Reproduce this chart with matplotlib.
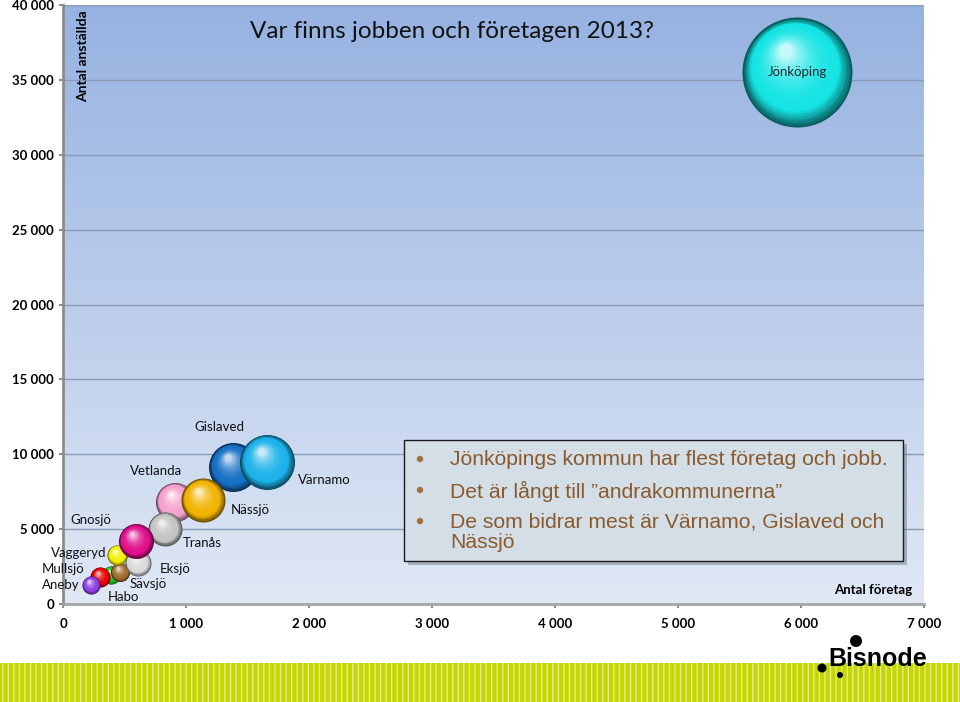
import numpy as np
import matplotlib
matplotlib.use("Agg")
import matplotlib.pyplot as plt
from matplotlib.colors import to_rgb
from matplotlib.patches import Rectangle, Circle
from matplotlib.transforms import ScaledTranslation
from matplotlib.ticker import FuncFormatter

# data, listed in drawing order (back to front)
kommuner = ["Jönköping", "Gislaved", "Värnamo", "Vetlanda", "Nässjö", "Tranås",
            "Habo", "Sävsjö", "Mullsjö", "Aneby", "Vaggeryd", "Eksjö", "Gnosjö"]
antal_foretag = [5970, 1384, 1660, 912, 1140, 830, 390, 464, 301, 228, 440, 610, 594]
antal_anstallda = [35500, 9130, 9470, 6800, 6930, 5000, 1930, 2130, 1800, 1270, 3270, 2730, 4200]
bubbelvarde = [130000, 25800, 32500, 16350, 20800, 12400, 3500, 3900, 4300, 3500, 4300, 7250, 13150]

x_ticks = [0, 1000, 2000, 3000, 4000, 5000, 6000, 7000]
y_ticks = [0, 5000, 10000, 15000, 20000, 25000, 30000, 35000, 40000]

punkter = [
    "Jönköpings kommun har flest företag och jobb.",
    "Det är långt till \u201dandrakommunerna\u201d",
    "De som bidrar mest är Värnamo, Gislaved och\nNässjö",
]

# styling
colors = {
    "Jönköping": "#16e4e4", "Gislaved": "#1670c4", "Värnamo": "#1cb2ea",
    "Vetlanda": "#f4a2cc", "Nässjö": "#f2b400", "Tranås": "#c4c4c4",
    "Habo": "#1cc21c", "Sävsjö": "#a26a2c", "Mullsjö": "#f00000",
    "Aneby": "#8e3ee2", "Vaggeryd": "#f2f000", "Eksjö": "#dadada",
    "Gnosjö": "#e0108c",
}
# label offsets in pixels from bubble centre (x right, y up)
label_offsets = {
    "Jönköping": (0, 0), "Värnamo": (57, -18), "Gislaved": (-14, 40),
    "Nässjö": (47, -10), "Vetlanda": (-19, 31), "Tranås": (37, -14),
    "Gnosjö": (-45, 21), "Eksjö": (37, -6), "Vaggeryd": (-38, 2),
    "Sävsjö": (28, -12), "Habo": (12, -22), "Mullsjö": (-37, 8),
    "Aneby": (-30, 0),
}

W, H, DPI = 960, 702, 100
fig = plt.figure(figsize=(W / DPI, H / DPI), dpi=DPI, facecolor="white")
ax = fig.add_axes([63 / W, 1 - 604 / H, (924 - 63) / W, (604 - 5) / H])


def px(x, y):
    # figure pixel (from top-left) -> inches for dpi_scale_trans
    return x / DPI, (H - y) / DPI


def sphere(x, y, s, color, z):
    base = np.array(to_rgb(color))
    dark = base * 0.4
    light = base + (1 - base) * 0.75
    r_pt = np.sqrt(s) / 2
    n = 32
    for k in range(n):
        t = k / (n - 1)
        scale = 1 - 0.88 * t
        if t < 0.22:
            c = dark + (base - dark) * (t / 0.22)
        else:
            u = (t - 0.22) / 0.78
            c = base + (light - base) * u ** 2.2
        dx = -0.22 * r_pt * t
        dy = 0.40 * r_pt * t
        tr = ax.transData + ScaledTranslation(dx / 72, dy / 72, fig.dpi_scale_trans)
        ax.scatter([x], [y], s=s * scale ** 2, color=[np.clip(c, 0, 1)],
                   linewidths=0, transform=tr, zorder=z + k * 0.01)


# plot area gradient
grad = np.linspace(0, 1, 256).reshape(-1, 1)
top = np.array([150, 178, 225]) / 255
bot = np.array([224, 232, 245]) / 255
img = top + (bot - top) * grad[:, :, None] * np.ones((1, 2, 1))
ax.imshow(img, extent=[0, 7000, 0, 40000], aspect="auto", origin="upper", zorder=0)

ax.set_xlim(0, 7000)
ax.set_ylim(0, 40000)
ax.set_xticks(x_ticks)
ax.set_yticks(y_ticks)
fmt = FuncFormatter(lambda v, p: f"{int(v):,}".replace(",", " "))
ax.xaxis.set_major_formatter(fmt)
ax.yaxis.set_major_formatter(fmt)
ax.set_axisbelow(True)
ax.yaxis.grid(True, color="#8a9ab5", lw=1)
ax.xaxis.grid(False)
for side in ["top", "right"]:
    ax.spines[side].set_visible(False)
ax.spines["left"].set_color("#8c8c8c")
ax.spines["left"].set_linewidth(2)
ax.spines["bottom"].set_color("#a6a6a6")
ax.spines["bottom"].set_linewidth(2)
ax.tick_params(direction="out", length=3, width=1.5, color="#8c8c8c")
ax.tick_params(axis="x", pad=7)
for lab in ax.get_xticklabels() + ax.get_yticklabels():
    lab.set_fontfamily("Lato")
    lab.set_fontweight("bold")
    lab.set_fontsize(9.5)

# bubbles
s_max = (2 * 0.72 * 55) ** 2
for i, name in enumerate(kommuner):
    s = s_max * bubbelvarde[i] / bubbelvarde[0]
    sphere(antal_foretag[i], antal_anstallda[i], s, colors[name], 3 + i)
    dx, dy = label_offsets[name]
    ax.annotate(name, (antal_foretag[i], antal_anstallda[i]),
                xytext=(dx * 0.72, dy * 0.72), textcoords="offset points",
                ha="center", va="center", fontsize=9.5, family="Lato",
                color="#1c2a30" if name == "Jönköping" else "#111111", zorder=40)

# titles
fig.text(250 / W, 1 - 31 / H, "Var finns jobben och företagen 2013?", family="Lato",
         fontsize=17.5, color="#111111", ha="left", va="center")
fig.text(83 / W, 1 - 56 / H, "Antal anställda", family="Lato", fontweight="bold",
         fontsize=10, rotation=90, ha="center", va="center")
fig.text(873 / W, 1 - 590 / H, "Antal företag", family="Lato", fontweight="bold",
         fontsize=9.5, ha="center", va="center")

# text box with shadow
T = fig.dpi_scale_trans
bx0, by0, bx1, by1 = 404, 440, 903, 561
fig.add_artist(Rectangle(px(bx0 + 4, by1 + 4), (bx1 - bx0) / DPI, (by1 - by0) / DPI,
                         transform=T, facecolor="#6f7c8a", alpha=0.5, lw=0, zorder=9))
fig.add_artist(Rectangle(px(bx0, by1), (bx1 - bx0) / DPI, (by1 - by0) / DPI,
                         transform=T, facecolor="#d3dee6", edgecolor="#1a1a1a",
                         lw=1, zorder=10))
line_y = [459, 490, 521]
for yy, txt in zip(line_y, punkter):
    fig.add_artist(Circle(px(420, yy), 3.2 / DPI, transform=T, facecolor="#a36f3c",
                          lw=0, zorder=11))
    fig.text(450 / W, 1 - (yy - 9) / H, txt, family="Liberation Sans", fontsize=15.2,
             color="#8a5a2c", ha="left", va="top", linespacing=1.12, zorder=12)

# bottom stripe
fig.add_artist(Rectangle(px(0, 702), W / DPI, 39 / DPI, transform=T,
                         facecolor="#c6d600", edgecolor="#e4ec8e", hatch="|||",
                         lw=0, zorder=1))

# Bisnode logo
fig.text(828 / W, 1 - 666 / H, "Bisnode", family="Liberation Sans", fontweight="bold",
         fontsize=18, color="black", ha="left", va="baseline", zorder=5)
for cx, cy, r in [(856, 641, 6), (822, 668, 4.5), (840, 675, 3)]:
    fig.add_artist(Circle(px(cx, cy), r / DPI, transform=T, facecolor="black", lw=0, zorder=6))

fig.savefig("out.png", dpi=DPI)
